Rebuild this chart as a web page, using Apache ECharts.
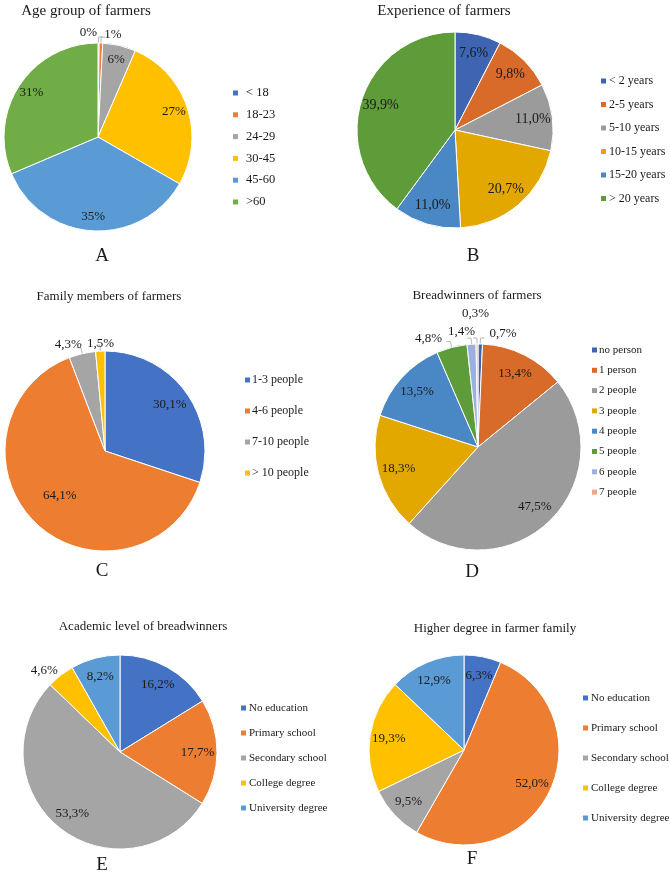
<!DOCTYPE html>
<html><head><meta charset="utf-8">
<script src="https://cdn.jsdelivr.net/npm/echarts@6/dist/echarts.min.js"></script>
<style>html,body{margin:0;padding:0;background:#fff}#c{width:670px;height:875px}</style>
</head><body><div id="c"></div>
<script>
// ---- data ----
const ageCats = ['< 18', '18-23', '24-29', '30-45', '45-60', '>60'];
const ageVals = [0.2, 0.6, 5.7, 26.8, 35.3, 31.4];
const expCats = ['< 2 years', '2-5 years', '5-10 years', '10-15 years', '15-20 years', '> 20 years'];
const expVals = [7.6, 9.8, 11.0, 20.7, 11.0, 39.9];
const famCats = ['1-3 people', '4-6 people', '7-10 people', '> 10 people'];
const famVals = [30.1, 64.1, 4.3, 1.5];
const breadCats = ['no person', '1 person', '2 people', '3 people', '4 people', '5 people', '6 people', '7 people'];
const breadVals = [0.7, 13.4, 47.5, 18.3, 13.5, 4.8, 1.4, 0.3];
const eduCats = ['No education', 'Primary school', 'Secondary school', 'College degree', 'University degree'];
const acadVals = [16.2, 17.7, 53.3, 4.6, 8.2];
const higherVals = [6.3, 52.0, 9.5, 19.3, 12.9];
const titles = ['Age group of farmers', 'Experience of farmers', 'Family members of farmers',
  'Breadwinners of farmers', 'Academic level of breadwinners', 'Higher degree in farmer family'];
const letters = ['A', 'B', 'C', 'D', 'E', 'F'];

// ---- styles ----
const stdColors = ['#4472C4', '#ED7D31', '#A5A5A5', '#FFC000', '#5B9BD5', '#70AD47'];
const darkColors = ['#3F65B2', '#D86B29', '#9B9B9B', '#E2A800', '#4A88C5', '#5E9C3A', '#9CB0E0', '#F2A887'];
const FONT = 'Liberation Serif, Times New Roman, serif';
const TXT = '#1a1a1a';

// ---- layout per panel ----
// outside: indices whose label sits outside; nudge: label offsets (px) for those labels
// inNudge: offsets for inside labels; lf: inside label radius factor
const panels = [
  { cats: ageCats, vals: ageVals, colors: stdColors, dec: 0, c: [98, 137], r: 94, lf: 0.85,
    outside: [0, 1], nudge: { 0: [-28, -4], 1: [-6, -2] }, inNudge: {}, showLine: true,
    title: [86, 11, 15], letter: [102, 256], leg: { left: 233, top: 86, gap: 7.8, fs: 12.5, pad: 3 }, lfs: 13 },
  { cats: expCats, vals: expVals, colors: darkColors, dec: 1, c: [455, 130], r: 98, lf: 0.8,
    outside: [], nudge: {}, inNudge: {}, showLine: true,
    title: [444, 11, 15], letter: [473, 256], leg: { left: 601, top: 74, gap: 9.5, fs: 12, pad: -2 }, lfs: 14 },
  { cats: famCats, vals: famVals, colors: stdColors, dec: 1, c: [105, 451], r: 100, lf: 0.8,
    outside: [2, 3], nudge: { 2: [10, -3], 3: [23, -2] }, inNudge: { 1: [10, -13] }, showLine: true,
    title: [109, 297, 13], letter: [102, 571], leg: { left: 245, top: 373, gap: 17, fs: 12, pad: -3 }, lfs: 13 },
  { cats: breadCats, vals: breadVals, colors: darkColors, dec: 1, c: [478, 447], r: 103, lf: 0.8,
    outside: [0, 5, 6, 7], nudge: { 0: [0, -4], 5: [1, -3], 6: [13, -7], 7: [21, -24] }, inNudge: {}, showLine: true,
    title: [477, 296, 13], letter: [472, 572], leg: { left: 592, top: 343, gap: 6.3, fs: 11, pad: -3 }, lfs: 13 },
  { cats: eduCats, vals: acadVals, colors: stdColors, dec: 1, c: [120, 752], r: 97, lf: 0.8,
    outside: [3], nudge: { 3: [10, 0] }, inNudge: {}, showLine: false,
    title: [143, 627, 13], letter: [102, 865], leg: { left: 241, top: 701, gap: 11, fs: 11, pad: -2 }, lfs: 13 },
  { cats: eduCats, vals: higherVals, colors: stdColors, dec: 1, c: [464, 750], r: 95, lf: 0.8,
    outside: [], nudge: {}, inNudge: {}, showLine: true,
    title: [495, 629, 13], letter: [472, 859], leg: { left: 583, top: 691, gap: 16, fs: 11, pad: -2 }, lfs: 13 }
];

function fmt(v, dec) {
  return (dec === 0 ? String(Math.round(v)) : v.toFixed(dec).replace('.', ',')) + '%';
}

const series = [];
const labelSeries = [];
const legends = [];
const graphics = [];

panels.forEach((p, pi) => {
  const mainData = p.cats.map((name, i) => {
    const out = p.outside.includes(i);
    return {
      name, value: p.vals[i],
      itemStyle: { color: p.colors[i] },
      label: { show: out },
      labelLine: { show: out && p.showLine }
    };
  });
  series.push({
    type: 'pie', center: p.c, radius: [0, p.r], startAngle: 90, clockwise: true,
    avoidLabelOverlap: false, silent: true, animation: false,
    itemStyle: { borderColor: '#fff', borderWidth: 1 },
    label: { position: 'outside', fontFamily: FONT, fontSize: p.lfs, color: TXT,
      formatter: (q) => fmt(q.value, p.dec) },
    labelLine: { length: 6, length2: 4, lineStyle: { color: '#a6a6a6', width: 0.8 } },
    labelLayout: (params) => {
      const n = p.nudge[params.dataIndex];
      return n ? { dx: n[0], dy: n[1], hideOverlap: false } : { hideOverlap: false };
    },
    data: mainData
  });
  const r0 = 2 * p.lf * p.r - p.r - 6;
  const lblData = p.cats.map((name, i) => {
    const o = p.inNudge[i];
    const lab = { show: !p.outside.includes(i) };
    if (o) lab.offset = o;
    return { name: 'lbl' + pi + '_' + i, value: p.vals[i], label: lab };
  });
  labelSeries.push({
    type: 'pie', center: p.c, radius: [r0, p.r], startAngle: 90, clockwise: true,
    avoidLabelOverlap: false, silent: true, animation: false,
    itemStyle: { color: 'rgba(0,0,0,0)', borderWidth: 0 },
    label: { position: 'inside', fontFamily: FONT, fontSize: p.lfs, color: TXT,
      formatter: (q) => fmt(q.value, p.dec) },
    labelLine: { show: false },
    labelLayout: { hideOverlap: false },
    emphasis: { disabled: true },
    data: lblData
  });
  legends.push({
    orient: 'vertical', left: p.leg.left, top: p.leg.top, itemGap: p.leg.gap, padding: 0,
    itemWidth: 5, itemHeight: 5, icon: 'rect', selectedMode: false,
    itemStyle: { borderWidth: 0, borderColor: 'rgba(0,0,0,0)' },
    textStyle: { fontFamily: FONT, fontSize: p.leg.fs, color: TXT, lineHeight: 14, padding: [0, 0, 0, p.leg.pad] },
    data: p.cats
  });
  graphics.push({
    type: 'text', x: p.title[0], y: p.title[1],
    style: { text: titles[pi], font: p.title[2] + 'px ' + FONT, fill: TXT, textAlign: 'center', textVerticalAlign: 'middle' }
  });
  graphics.push({
    type: 'text', x: p.letter[0], y: p.letter[1],
    style: { text: letters[pi], font: '19px ' + FONT, fill: TXT, textAlign: 'center', textVerticalAlign: 'middle' }
  });
});

const chart = echarts.init(document.getElementById('c'), null, { renderer: 'canvas' });
chart.setOption({
  backgroundColor: '#fff',
  animation: false,
  legend: legends,
  graphic: graphics,
  series: series.concat(labelSeries)
});
</script></body></html>
